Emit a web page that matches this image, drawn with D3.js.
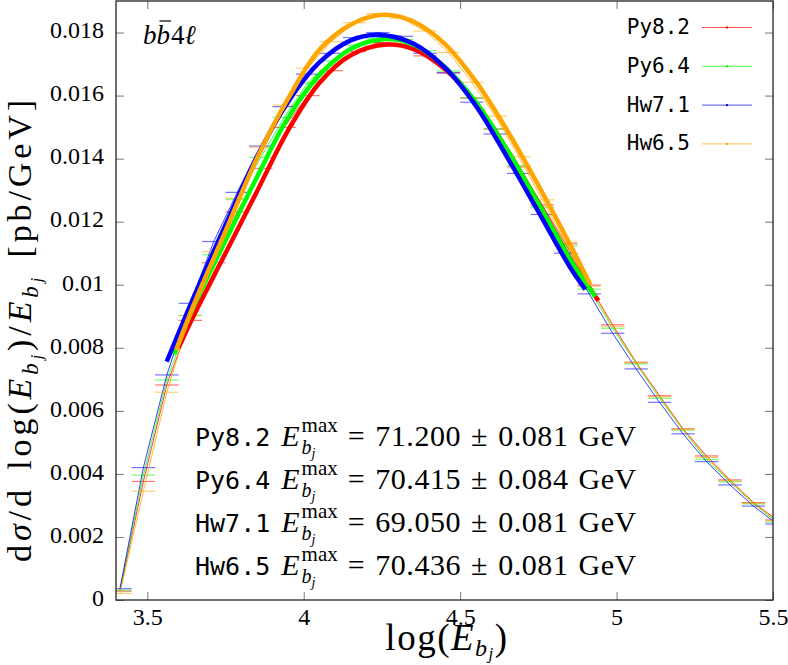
<!DOCTYPE html>
<html>
<head>
<meta charset="utf-8">
<script src="https://cdn.jsdelivr.net/npm/d3@7"></script>
<style>
  body { margin: 0; background: #fff; }
  svg { display: block; }
  .serif { font-family: "Liberation Serif", "DejaVu Serif", serif; fill: #000; }
  .mono { font-family: "DejaVu Sans Mono", "Liberation Mono", monospace; fill: #000; }
  .it { font-style: italic; }
</style>
</head>
<body>
<svg id="chart" width="788" height="665"></svg>
<script>
// ── Data ──────────────────────────────────────────────────────────────────
const binCenters = [
  3.4125, 3.4875, 3.5625, 3.6375, 3.7125, 3.7875, 3.8625, 3.9375, 4.0125, 4.0875,
  4.1625, 4.2375, 4.3125, 4.3875, 4.4625, 4.5375, 4.6125, 4.6875, 4.7625, 4.8375,
  4.9125, 4.9875, 5.0625, 5.1375, 5.2125, 5.2875, 5.3625, 5.4375, 5.5125,
];
const binHalfWidth = 0.0375;

const seriesNames = ["Py8.2", "Py6.4", "Hw7.1", "Hw6.5"];
const seriesColors = ["#ff0000", "#00ff00", "#0000ff", "#ffa500"];

const histPy82 = [
  0.00028, 0.00376, 0.00682, 0.00887, 0.01070, 0.01231, 0.01369, 0.01499, 0.01600, 0.01679,
  0.01740, 0.01768, 0.01760, 0.01726, 0.01671, 0.01592, 0.01494, 0.01374, 0.01253, 0.01130,
  0.00999, 0.00873, 0.00754, 0.00648, 0.00543, 0.00457, 0.00381, 0.00309, 0.00254,
];
const histPy64 = [
  0.00031, 0.00396, 0.00698, 0.00903, 0.01095, 0.01271, 0.01404, 0.01531, 0.01640, 0.01710,
  0.01760, 0.01780, 0.01778, 0.01742, 0.01678, 0.01593, 0.01494, 0.01378, 0.01246, 0.01123,
  0.00986, 0.00862, 0.00749, 0.00640, 0.00539, 0.00446, 0.00375, 0.00305, 0.00247,
];
const histHw71 = [
  0.00036, 0.00420, 0.00714, 0.00941, 0.01137, 0.01293, 0.01440, 0.01565, 0.01668, 0.01734,
  0.01784, 0.01800, 0.01788, 0.01734, 0.01673, 0.01579, 0.01478, 0.01353, 0.01223, 0.01100,
  0.00971, 0.00846, 0.00733, 0.00627, 0.00527, 0.00439, 0.00365, 0.00298, 0.00241,
];
const histHw65 = [
  0.00021, 0.00345, 0.00659, 0.00902, 0.01105, 0.01274, 0.01436, 0.01570, 0.01687, 0.01771,
  0.01831, 0.01860, 0.01845, 0.01805, 0.01737, 0.01642, 0.01535, 0.01406, 0.01269, 0.01135,
  0.00995, 0.00868, 0.00752, 0.00645, 0.00541, 0.00452, 0.00378, 0.00307, 0.00251,
];

const fitPy82 = [
  [3.600, 0.00800], [3.65, 0.00905], [3.75, 0.01100], [3.85, 0.01295], [3.95, 0.01490],
  [4.05, 0.01640], [4.15, 0.01728], [4.266, 0.01762], [4.35, 0.01748], [4.45, 0.01685],
  [4.55, 0.01578], [4.65, 0.01428], [4.75, 0.01260], [4.85, 0.01085], [4.942, 0.00949],
];
const fitPy64 = [
  [3.586, 0.00780], [3.65, 0.00935], [3.75, 0.01140], [3.85, 0.01340], [3.95, 0.01530],
  [4.05, 0.01665], [4.15, 0.01748], [4.254, 0.01779], [4.35, 0.01762], [4.45, 0.01692],
  [4.55, 0.01580], [4.65, 0.01428], [4.75, 0.01258], [4.85, 0.01082], [4.932, 0.00962],
];
const fitHw71 = [
  [3.562, 0.00756], [3.65, 0.00965], [3.75, 0.01190], [3.85, 0.01405], [3.95, 0.01580],
  [4.05, 0.01705], [4.15, 0.01775], [4.234, 0.01792], [4.35, 0.01765], [4.45, 0.01690],
  [4.55, 0.01568], [4.65, 0.01405], [4.75, 0.01232], [4.85, 0.01058], [4.900, 0.00985],
];
const fitHw65 = [
  [3.592, 0.00793], [3.65, 0.00940], [3.75, 0.01170], [3.85, 0.01400], [3.95, 0.01590],
  [4.05, 0.01745], [4.15, 0.01825], [4.255, 0.01856], [4.35, 0.01835], [4.45, 0.01765],
  [4.55, 0.01645], [4.65, 0.01490], [4.75, 0.01315], [4.85, 0.01130], [4.916, 0.01000],
];

const eMaxValues = ["71.200", "70.415", "69.050", "70.436"];
const eMaxErrors = ["0.081", "0.084", "0.081", "0.081"];

const xTicks = [3.5, 4, 4.5, 5, 5.5];
const xTickLabels = ["3.5", "4", "4.5", "5", "5.5"];
const yTicks = [0, 0.002, 0.004, 0.006, 0.008, 0.01, 0.012, 0.014, 0.016, 0.018];
const yTickLabels = ["0", "0.002", "0.004", "0.006", "0.008", "0.01", "0.012", "0.014", "0.016", "0.018"];

const hists = [histPy82, histPy64, histHw71, histHw65];
const fits = [fitPy82, fitPy64, fitHw71, fitHw65];

// ── Layout ────────────────────────────────────────────────────────────────
const plot = { left: 116, right: 773, top: 1, bottom: 600 };
const x = d3.scaleLinear().domain([3.4, 5.5]).range([plot.left, plot.right]);
const y = d3.scaleLinear().domain([0, 0.019]).range([plot.bottom, plot.top]);

const svg = d3.select("#chart");

svg.append("defs").append("clipPath").attr("id", "clip")
  .append("rect")
  .attr("x", plot.left).attr("y", plot.top)
  .attr("width", plot.right - plot.left).attr("height", plot.bottom - plot.top);

// ── Axes ──────────────────────────────────────────────────────────────────
function styleAxis(g) {
  g.attr("font-family", null).attr("font-size", null);
  g.select(".domain").remove();
  g.selectAll(".tick line").attr("stroke", "#777").attr("stroke-width", 1);
  g.selectAll(".tick text")
    .attr("class", "serif")
    .style("font-family", "'Liberation Serif', 'DejaVu Serif', serif")
    .style("font-size", "24px")
    .attr("fill", "#000");
}

svg.append("g")
  .attr("transform", `translate(${plot.left},0)`)
  .call(d3.axisLeft(y).tickValues(yTicks).tickFormat((d, i) => yTickLabels[i])
    .tickSizeInner(-8).tickSizeOuter(0).tickPadding(12))
  .call(styleAxis)
  .call((g) => g.selectAll(".tick text").attr("dy", "0.22em"));

svg.append("g")
  .attr("transform", `translate(${plot.right},0)`)
  .call(d3.axisRight(y).tickValues(yTicks).tickFormat("").tickSizeInner(-8).tickSizeOuter(0))
  .call(styleAxis);

svg.append("g")
  .attr("transform", `translate(0,${plot.bottom})`)
  .call(d3.axisBottom(x).tickValues(xTicks).tickFormat((d, i) => xTickLabels[i])
    .tickSizeInner(-8).tickSizeOuter(0).tickPadding(8))
  .call(styleAxis);

svg.append("g")
  .attr("transform", `translate(0,${plot.top})`)
  .call(d3.axisTop(x).tickValues(xTicks).tickFormat("").tickSizeInner(-8).tickSizeOuter(0))
  .call(styleAxis);

// ── Histograms (thin lines + bin bars) ────────────────────────────────────
const dataG = svg.append("g").attr("clip-path", "url(#clip)");

const histLine = d3.line().x((d) => x(d[0])).y((d) => y(d[1]));

hists.forEach((vals, s) => {
  const pts = binCenters.map((c, i) => [c, vals[i]]);
  const g = dataG.append("g");
  g.selectAll("line.bar")
    .data(pts)
    .join("line")
    .attr("class", "bar")
    .attr("x1", (d) => x(d[0] - binHalfWidth))
    .attr("x2", (d) => x(d[0] + binHalfWidth))
    .attr("y1", (d) => y(d[1]))
    .attr("y2", (d) => y(d[1]))
    .attr("stroke", seriesColors[s])
    .attr("stroke-opacity", 0.55)
    .attr("stroke-width", 1.2);
  g.append("path")
    .datum(pts)
    .attr("d", histLine)
    .attr("fill", "none")
    .attr("stroke", seriesColors[s])
    .attr("stroke-opacity", 0.85)
    .attr("stroke-width", 0.9);
});

// ── Fitted curves ─────────────────────────────────────────────────────────
const fitLine = d3.line()
  .x((d) => x(d[0]))
  .y((d) => y(d[1]))
  .curve(d3.curveCatmullRom.alpha(0.5));

fits.forEach((pts, s) => {
  dataG.append("path")
    .datum(pts)
    .attr("d", fitLine)
    .attr("fill", "none")
    .attr("stroke", seriesColors[s])
    .attr("stroke-width", 4.5);
});

// ── Frame ─────────────────────────────────────────────────────────────────
svg.append("rect")
  .attr("x", plot.left).attr("y", plot.top)
  .attr("width", plot.right - plot.left).attr("height", plot.bottom - plot.top)
  .attr("fill", "none").attr("stroke", "#222").attr("stroke-width", 1.3);

// ── Legend ────────────────────────────────────────────────────────────────
const legend = svg.append("g");
seriesNames.forEach((name, s) => {
  const ly = 27.5 + s * 38.8;
  legend.append("text")
    .attr("class", "mono")
    .attr("font-size", 21)
    .attr("text-anchor", "end")
    .attr("x", 690).attr("y", ly + 6.5)
    .text(name);
  legend.append("line")
    .attr("x1", 702).attr("x2", 752).attr("y1", ly).attr("y2", ly)
    .attr("stroke", seriesColors[s]).attr("stroke-opacity", 0.7).attr("stroke-width", 1);
  legend.append("rect")
    .attr("x", 726).attr("y", ly - 1).attr("width", 2).attr("height", 2)
    .attr("fill", seriesColors[s]);
});

// ── Process label ─────────────────────────────────────────────────────────
{
  const g = svg.append("g");
  let px = 143;
  const by = 44;
  const t1 = g.append("text").attr("class", "serif it").attr("font-size", 27)
    .attr("x", px).attr("y", by).text("b");
  px += t1.node().getComputedTextLength();
  const t2 = g.append("text").attr("class", "serif it").attr("font-size", 27)
    .attr("x", px).attr("y", by).text("b");
  const w2 = t2.node().getComputedTextLength();
  g.append("line")
    .attr("x1", px + 3).attr("x2", px + w2 + 1)
    .attr("y1", by - 23).attr("y2", by - 23)
    .attr("stroke", "#000").attr("stroke-width", 1.2);
  px += w2 + 1;
  const t3 = g.append("text").attr("class", "serif").attr("font-size", 27)
    .attr("x", px).attr("y", by).text("4");
  px += t3.node().getComputedTextLength();
  g.append("text").attr("class", "serif it").attr("font-size", 27)
    .attr("x", px).attr("y", by).text("ℓ");
}

// ── E_max annotations ─────────────────────────────────────────────────────
const annG = svg.append("g");
seriesNames.forEach((name, s) => {
  const yb = 446 + s * 43;
  let ax = 195;
  const tn = annG.append("text").attr("class", "mono").attr("font-size", 25)
    .attr("x", ax).attr("y", yb).text(name);
  ax += tn.node().getComputedTextLength() + 11;
  const te = annG.append("text").attr("class", "serif it").attr("font-size", 30)
    .attr("x", ax).attr("y", yb).text("E");
  ax += te.node().getComputedTextLength() + 2;
  const tsup = annG.append("text").attr("class", "serif").attr("font-size", 21)
    .attr("x", ax).attr("y", yb - 14).text("max");
  const tb = annG.append("text").attr("class", "serif it").attr("font-size", 20)
    .attr("x", ax).attr("y", yb + 8).text("b");
  const tj = annG.append("text").attr("class", "serif it").attr("font-size", 14)
    .attr("x", ax + tb.node().getComputedTextLength()).attr("y", yb + 12).text("j");
  ax += Math.max(
    tsup.node().getComputedTextLength(),
    tb.node().getComputedTextLength() + tj.node().getComputedTextLength(),
  ) + 10;
  annG.append("text").attr("class", "serif").attr("font-size", 30)
    .attr("letter-spacing", 0.55)
    .attr("word-spacing", 2)
    .attr("x", ax).attr("y", yb)
    .text(`= ${eMaxValues[s]} ± ${eMaxErrors[s]} GeV`);
});

// ── Axis titles ───────────────────────────────────────────────────────────
{
  const t = svg.append("text").attr("class", "serif").attr("font-size", 37)
    .attr("letter-spacing", 1.5)
    .attr("text-anchor", "middle")
    .attr("x", 447).attr("y", 650);
  t.append("tspan").text("log(");
  t.append("tspan").attr("class", "it").text("E");
  t.append("tspan").attr("class", "it").attr("font-size", 24).attr("dy", 6).text("b");
  t.append("tspan").attr("class", "it").attr("font-size", 17).attr("dy", 3).text("j");
  t.append("tspan").attr("dy", -9).text(")");
}
{
  const t = svg.append("text").attr("class", "serif").attr("font-size", 34)
    .attr("letter-spacing", 3.9)
    .attr("word-spacing", 4)
    .attr("text-anchor", "middle")
    .attr("transform", "translate(31,329) rotate(-90)");
  t.append("tspan").text("d");
  t.append("tspan").attr("class", "it").text("σ");
  t.append("tspan").text("/d log(");
  t.append("tspan").attr("class", "it").text("E");
  t.append("tspan").attr("class", "it").attr("font-size", 23).attr("dy", 7).text("b");
  t.append("tspan").attr("class", "it").attr("font-size", 16).attr("dy", 4).text("j");
  t.append("tspan").attr("dy", -11).text(")/");
  t.append("tspan").attr("class", "it").text("E");
  t.append("tspan").attr("class", "it").attr("font-size", 23).attr("dy", 7).text("b");
  t.append("tspan").attr("class", "it").attr("font-size", 16).attr("dy", 4).text("j");
  t.append("tspan").attr("dy", -11).text(" [pb/GeV]");
}
</script>
</body>
</html>
